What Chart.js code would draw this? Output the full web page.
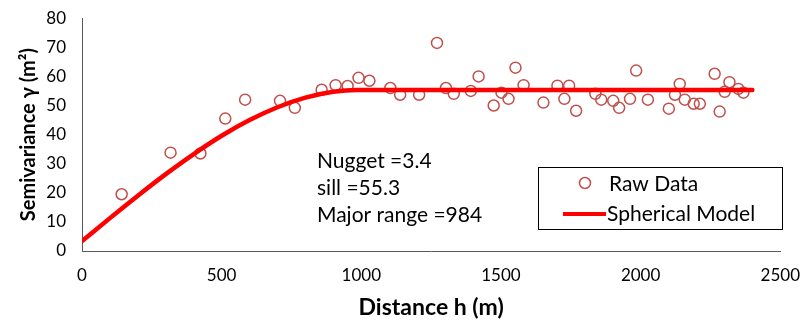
<!DOCTYPE html>
<html>
<head>
<meta charset="utf-8">
<script src="https://cdn.jsdelivr.net/npm/chart.js@4"></script>
<style>
  html, body { margin: 0; padding: 0; background: #fff; }
  #wrap { width: 806px; height: 325px; }
</style>
</head>
<body>
<div id="wrap"><canvas id="chart" width="806" height="325"></canvas></div>
<script>
"use strict";

// raw semivariance points
const rawDistance = [142, 317, 424, 513, 584, 709, 762, 858, 908, 951, 990, 1029, 1104, 1139, 1207, 1271, 1303, 1331, 1392, 1420,
  1474, 1502, 1527, 1552, 1581, 1652, 1702, 1727, 1744, 1769, 1838, 1859, 1902, 1923, 1962, 1984, 2026, 2101, 2123, 2140,
  2158, 2190, 2212, 2265, 2283, 2301, 2318, 2350, 2368];
const rawGamma = [19.5, 33.8, 33.5, 45.5, 52, 51.6, 49.2, 55.4, 57, 56.7, 59.5, 58.5, 56, 53.7, 53.7, 71.5, 56, 54, 55, 60,
  50, 54.4, 52.3, 63, 57, 51, 56.8, 52.3, 56.8, 48.2, 54, 52, 51.6, 49.2, 52.3, 62, 52, 48.9, 53.7, 57.4,
  52, 50.6, 50.6, 60.9, 47.9, 54.7, 58, 55.7, 54.4];

// fitted spherical model curve
const modelDistance = [0, 100, 200, 300, 400, 500, 600, 700, 800, 900, 984, 1200, 1600, 2000, 2400];
const modelGamma = [3.4, 11.3, 19.0, 26.4, 33.3, 39.6, 45.0, 49.4, 52.7, 54.7, 55.3, 55.3, 55.3, 55.3, 55.3];

const xTicks = [0, 500, 1000, 1500, 2000, 2500];
const yTicks = [0, 10, 20, 30, 40, 50, 60, 70, 80];

const infoLines = ["Nugget =3.4", "sill =55.3", "Major range =984"];
const legendLabels = ["Raw Data", "Spherical Model"];

const FONT = "Lato, 'Open Sans', sans-serif";
const RAW_COLOR = "#C0504D";
const MODEL_COLOR = "#FF0000";

// draws the parameter text and the boxed legend inside the plot
const overlayPlugin = {
  id: "overlay",
  afterDraw(chart) {
    const ctx = chart.ctx;
    ctx.save();
    ctx.fillStyle = "#000";
    ctx.font = "21px " + FONT;
    ctx.textBaseline = "middle";
    ctx.textAlign = "left";
    infoLines.forEach((t, i) => ctx.fillText(t, 317, 161 + i * 27));

    // legend box
    ctx.strokeStyle = "#000";
    ctx.lineWidth = 1;
    ctx.strokeRect(538.5, 167.5, 244, 62);

    ctx.strokeStyle = RAW_COLOR;
    ctx.lineWidth = 1.5;
    ctx.beginPath();
    ctx.arc(585, 183, 5.5, 0, Math.PI * 2);
    ctx.stroke();

    ctx.strokeStyle = MODEL_COLOR;
    ctx.lineWidth = 4;
    ctx.beginPath();
    ctx.moveTo(563, 214);
    ctx.lineTo(606, 214);
    ctx.stroke();

    ctx.fillStyle = "#000";
    ctx.fillText(legendLabels[0], 609, 184);
    ctx.fillText(legendLabels[1], 607, 214);
    ctx.restore();
  }
};

const ctx = document.getElementById("chart").getContext("2d");

new Chart(ctx, {
  type: "scatter",
  data: {
    datasets: [
      {
        label: legendLabels[0],
        data: rawDistance.map((x, i) => ({ x: x, y: rawGamma[i] })),
        pointStyle: "circle",
        pointRadius: 5.5,
        pointBorderWidth: 1.5,
        pointBorderColor: RAW_COLOR,
        pointBackgroundColor: "rgba(0,0,0,0)",
        order: 2
      },
      {
        label: legendLabels[1],
        type: "line",
        data: modelDistance.map((x, i) => ({ x: x, y: modelGamma[i] })),
        borderColor: MODEL_COLOR,
        borderWidth: 4.5,
        pointRadius: 0,
        cubicInterpolationMode: "monotone",
        borderCapStyle: "round",
        fill: false,
        order: 1
      }
    ]
  },
  options: {
    responsive: false,
    animation: false,
    layout: { padding: { top: 17, right: 22, left: 0, bottom: 0 } },
    plugins: {
      legend: { display: false },
      tooltip: { enabled: false }
    },
    scales: {
      x: {
        type: "linear",
        min: 0,
        max: 2500,
        afterBuildTicks: axis => { axis.ticks = xTicks.map(v => ({ value: v })); },
        grid: { display: false },
        border: { display: true, color: "#595959", width: 1 },
        ticks: { color: "#000", font: { family: FONT, size: 17 }, padding: 6, maxRotation: 0, callback: v => String(v) },
        title: {
          display: true,
          text: "Distance h (m)",
          color: "#000",
          font: { family: FONT, size: 23, weight: "bold" },
          padding: { top: 7 }
        },
        afterFit: axis => { axis.height = 74; }
      },
      y: {
        min: 0,
        max: 80,
        afterBuildTicks: axis => { axis.ticks = yTicks.map(v => ({ value: v })); },
        grid: { display: false },
        border: { display: true, color: "#595959", width: 1 },
        ticks: { color: "#000", font: { family: FONT, size: 17 }, padding: 8, callback: v => String(v) },
        title: {
          display: true,
          text: "Semivariance \u03B3 (m\u00B2)",
          color: "#000",
          font: { family: FONT, size: 20, weight: "bold" },
          padding: { top: 17, bottom: 4 }
        },
        afterFit: axis => { axis.width = 82; }
      }
    }
  },
  plugins: [overlayPlugin]
});
</script>
</body>
</html>
